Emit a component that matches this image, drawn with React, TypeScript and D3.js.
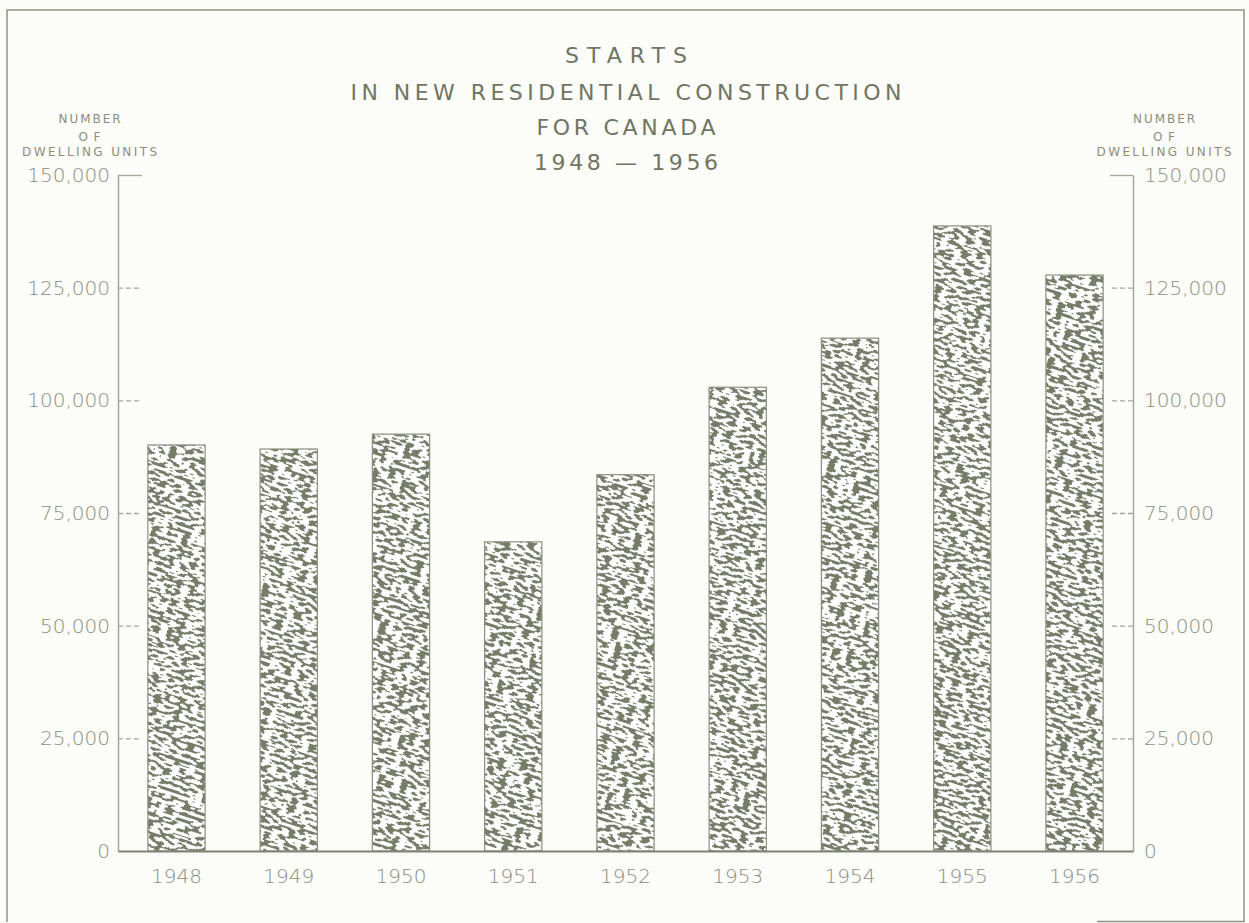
import React, { useEffect, useRef } from 'react';
import * as d3 from 'd3';

const years = ['1948', '1949', '1950', '1951', '1952', '1953', '1954', '1955', '1956'];
const starts = [90100, 89200, 92500, 68600, 83500, 102900, 113800, 138700, 127800];
const tickValues = [0, 25000, 50000, 75000, 100000, 125000, 150000];
const titleLines = ['STARTS', 'IN NEW RESIDENTIAL CONSTRUCTION', 'FOR CANADA', '1948 \u2014 1956'];
const axisTitle = ['NUMBER', 'OF', 'DWELLING UNITS'];

const W = 1249;
const H = 923;
const INK = '#6f7562';
const LIGHT = '#8a8e7e';
const FONT = '"DejaVu Sans", sans-serif';

const App = () => {
  const chartRef = useRef<SVGSVGElement>(null);

  useEffect(() => {
    drawChart();
  }, []);

  const drawChart = () => {
    const svg = d3.select(chartRef.current);
    svg.selectAll('*').remove();

    const left = 118;
    const right = 1133;
    const top = 175;
    const bottom = 851;

    svg.append('rect').attr('width', W).attr('height', H).attr('fill', '#fcfcf8');

    // frame
    const frame = svg.append('g').attr('stroke', '#8e9283').attr('fill', 'none').attr('stroke-width', 1.5);
    frame.append('path').attr('d', `M7,922 V10 H1244 V922`);
    frame.append('path').attr('d', `M1097,921.5 H1244`);

    const x = d3
      .scaleBand()
      .domain(years)
      .range([left, right])
      .paddingInner(0.49)
      .paddingOuter(0.266);

    const y = d3.scaleLinear().domain([0, 150000]).range([bottom, top]);

    // worm-like texture for the bars
    const defs = svg.append('defs');
    const filter = defs
      .append('filter')
      .attr('id', 'worms')
      .attr('filterUnits', 'userSpaceOnUse')
      .attr('x', -600)
      .attr('y', -600)
      .attr('width', 2600)
      .attr('height', 2600);
    filter
      .append('feTurbulence')
      .attr('type', 'fractalNoise')
      .attr('baseFrequency', '0.13 0.32')
      .attr('numOctaves', 1)
      .attr('seed', 11)
      .attr('result', 'n');
    filter
      .append('feColorMatrix')
      .attr('in', 'n')
      .attr('type', 'matrix')
      .attr('values', '0 0 0 0 0  0 0 0 0 0  0 0 0 0 0  1 0 0 0 0')
      .attr('result', 'r');
    const steps = d3.range(40).map((i) => (i < 21 ? 0 : 1)).join(' ');
    filter
      .append('feComponentTransfer')
      .attr('in', 'r')
      .attr('result', 'mask')
      .append('feFuncA')
      .attr('type', 'discrete')
      .attr('tableValues', steps);
    filter.append('feFlood').attr('flood-color', '#757b67').attr('result', 'c');
    filter.append('feComposite').attr('in', 'c').attr('in2', 'mask').attr('operator', 'in');

    const clip = defs.append('clipPath').attr('id', 'barClip');
    clip
      .selectAll('rect')
      .data(years)
      .join('rect')
      .attr('x', (d) => x(d)!)
      .attr('y', (d, i) => y(starts[i]))
      .attr('width', x.bandwidth())
      .attr('height', (d, i) => bottom - y(starts[i]));

    svg
      .append('g')
      .selectAll('rect')
      .data(years)
      .join('rect')
      .attr('x', (d) => x(d)!)
      .attr('y', (d, i) => y(starts[i]))
      .attr('width', x.bandwidth())
      .attr('height', (d, i) => bottom - y(starts[i]))
      .attr('fill', '#ffffff');

    svg
      .append('g')
      .attr('clip-path', 'url(#barClip)')
      .append('g')
      .attr('transform', 'rotate(18 625 500)')
      .append('rect')
      .attr('x', -500)
      .attr('y', -500)
      .attr('width', 2400)
      .attr('height', 2400)
      .attr('fill', INK)
      .attr('filter', 'url(#worms)');

    svg
      .append('g')
      .selectAll('rect')
      .data(years)
      .join('rect')
      .attr('x', (d) => x(d)!)
      .attr('y', (d, i) => y(starts[i]))
      .attr('width', x.bandwidth())
      .attr('height', (d, i) => bottom - y(starts[i]))
      .attr('fill', 'none')
      .attr('stroke', '#8c907f')
      .attr('stroke-width', 1.2);

    // y axes
    const fmt = d3.format(',');
    const yLeft = svg
      .append('g')
      .attr('transform', `translate(${left},0)`)
      .call(d3.axisLeft(y).tickValues(tickValues).tickFormat((d) => fmt(+d)).tickSize(-24).tickSizeOuter(0).tickPadding(8));
    const yRight = svg
      .append('g')
      .attr('transform', `translate(${right},0)`)
      .call(d3.axisRight(y).tickValues(tickValues).tickFormat((d) => fmt(+d)).tickSize(-23).tickSizeOuter(0).tickPadding(11));

    [yLeft, yRight].forEach((g) => {
      g.select('.domain').attr('stroke', '#a3a698').attr('stroke-width', 1.5);
      g.selectAll('.tick line')
        .attr('stroke', '#a5a89a')
        .attr('stroke-width', 1.3)
        .attr('stroke-dasharray', (d) => (d === 150000 ? null : '5 3'));
      g.selectAll('.tick')
        .filter((d) => d === 0)
        .select('line')
        .remove();
      g.selectAll('.tick text')
        .attr('fill', LIGHT)
        .attr('font-family', FONT)
        .attr('font-weight', 200)
        .attr('font-size', 20);
    });

    // x axis
    const xAxis = svg
      .append('g')
      .attr('transform', `translate(0,${bottom})`)
      .call(d3.axisBottom(x).tickSize(0).tickSizeOuter(0).tickPadding(18));
    xAxis.select('.domain').attr('stroke', '#7f8373').attr('stroke-width', 2);
    xAxis
      .selectAll('.tick text')
      .attr('fill', LIGHT)
      .attr('font-family', FONT)
      .attr('font-weight', 200)
      .attr('font-size', 20);

    // title
    const titleY = [63, 100, 135, 170];
    const titleW = [122, 551, 179, 184];
    svg
      .append('g')
      .selectAll('text')
      .data(titleLines)
      .join('text')
      .attr('x', 626)
      .attr('y', (d, i) => titleY[i])
      .attr('text-anchor', 'middle')
      .attr('textLength', (d, i) => titleW[i])
      .attr('lengthAdjust', 'spacing')
      .attr('font-family', FONT)
      .attr('font-size', 22)
      .attr('fill', INK)
      .text((d) => d);

    // axis titles
    const smallY = [123, 141, 156];
    const smallW = [62, 22, 135];
    [89.5, 1164].forEach((cx) => {
      svg
        .append('g')
        .selectAll('text')
        .data(axisTitle)
        .join('text')
        .attr('x', cx)
        .attr('y', (d, i) => smallY[i])
        .attr('text-anchor', 'middle')
        .attr('textLength', (d, i) => smallW[i])
        .attr('lengthAdjust', 'spacing')
        .attr('font-family', FONT)
        .attr('font-size', 12)
        .attr('fill', LIGHT)
        .text((d) => d);
    });
  };

  return (
    <svg
      ref={chartRef}
      width={W}
      height={H}
      style={{ position: 'absolute', left: 0, top: 0, display: 'block' }}
    ></svg>
  );
};

export default App;
